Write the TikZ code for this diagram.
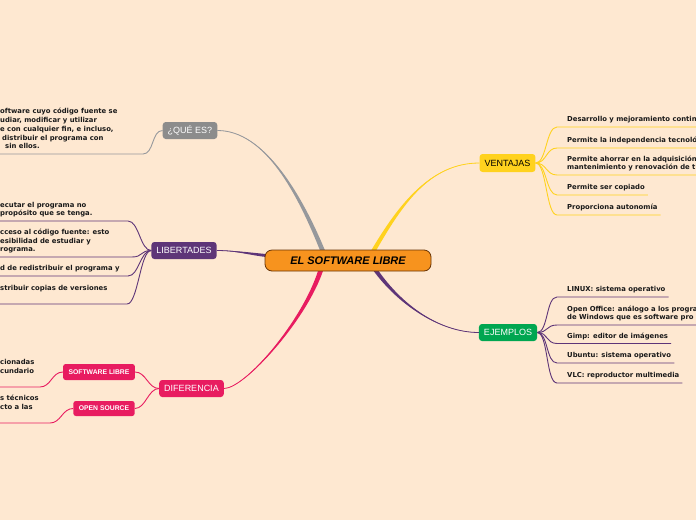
\documentclass[tikz,border=0pt]{standalone}
\usepackage{fontspec}
\setmainfont{Liberation Sans}
\newfontfamily\leaffam{DejaVu Sans}
\definecolor{mmpaper}{RGB}{254,232,209}
\definecolor{mmorange}{RGB}{247,147,30}
\definecolor{mmbrown}{RGB}{105,52,5}
\definecolor{mmgray}{RGB}{140,140,140}
\definecolor{mmgrayline}{RGB}{150,152,156}
\definecolor{mmpurple}{RGB}{94,53,120}
\definecolor{mmpink}{RGB}{232,28,96}
\definecolor{mmyellow}{RGB}{255,210,30}
\definecolor{mmgreen}{RGB}{0,166,81}
\usetikzlibrary{calc}
\pgfdeclarelayer{paper}
\pgfdeclarelayer{links}
\pgfsetlayers{paper,links,main}
\tikzset{
  topic/.style={rounded corners=3pt, minimum height=17pt, inner xsep=5pt, inner ysep=0pt, text=white, font=\fontsize{9}{10}\selectfont},
  subtopic/.style={rounded corners=2.5pt, minimum height=16pt, inner xsep=5.5pt, inner ysep=0pt, text=white, font=\bfseries\fontsize{6.8}{8}\selectfont},
  leaf/.style={inner xsep=0pt, inner ysep=2.4pt, align=left, anchor=south west, text=black!90, execute at end node=\strut, font=\leaffam\bfseries\fontsize{6.85}{8.7}\selectfont},
  twig/.style={line width=0.9pt},
}

\begin{document}
\begin{tikzpicture}[x=1pt,y=-1pt]
  \begin{pgfonlayer}{paper}
    \fill[mmpaper] (0,0) rectangle (696,520);
  \end{pgfonlayer}
  \useasboundingbox (0,0) rectangle (696,520);

  % centre and main topics
  \node[draw=mmbrown, line width=0.8pt, fill=mmorange, rounded corners=7pt, minimum width=166pt, minimum height=21pt, inner sep=0pt, font=\bfseries\itshape\fontsize{11}{12}\selectfont] (root) at (348,260.5) {EL SOFTWARE LIBRE};
  \node[topic, fill=mmgray] (quees) at (190,130.5) {¿QUÉ ES?};
  \node[topic, fill=mmpurple] (libertades) at (184,250.5) {LIBERTADES};
  \node[topic, fill=mmpink] (diferencia) at (191.5,388.5) {DIFERENCIA};
  \node[topic, fill=mmyellow, text=black, minimum height=18pt] (ventajas) at (507.5,163) {VENTAJAS};
  \node[topic, fill=mmgreen] (ejemplos) at (508,332.5) {EJEMPLOS};
  \node[subtopic, fill=mmpink] (swlibre) at (99,372) {SOFTWARE LIBRE};
  \node[subtopic, fill=mmpink, minimum height=15pt] (opensource) at (104,408.5) {OPEN SOURCE};

  % right side
  \node[leaf] (v1) at (567,127) {Desarrollo y mejoramiento contin};
  \node[leaf] (v2) at (567,148) {Permite la independencia tecnoló};
  \node[leaf] (v3) at (567,175) {Permite ahorrar en la adquisición\\mantenimiento y renovación de t};
  \node[leaf] (v4) at (567,195) {Permite ser copiado};
  \node[leaf] (v5) at (567,215) {Proporciona autonomía};
  \node[leaf] (e1) at (567,297) {LINUX: sistema operativo};
  \node[leaf] (e2) at (567,325) {Open Office: análogo a los progra\\de Windows que es software pro};
  \node[leaf] (e3) at (567,343.5) {Gimp: editor de imágenes};
  \node[leaf] (e4) at (567,363) {Ubuntu: sistema operativo};
  \node[leaf] (e5) at (567,383) {VLC: reproductor multimedia};

  % left side
  \node[leaf] (q1) at (0,154) {oftware cuyo código fuente se\\udiar, modificar y utilizar\\e con cualquier fin, e incluso,\\\hspace*{2pt}distribuir el programa con\\\hspace*{5pt}sin ellos.};
  \node[leaf] (l1) at (0,221) {ecutar el programa no\\propósito que se tenga.};
  \node[leaf] (l2) at (0,257) {cceso al código fuente: esto\\esibilidad de estudiar y\\rograma.};
  \node[leaf] (l3) at (0,276) {d de redistribuir el programa y};
  \node[leaf] (l4) at (0,304) {stribuir copias de versiones\\\mbox{}};
  \node[leaf] (s1) at (0,387) {cionadas\\cundario\\\mbox{}};
  \node[leaf] (o1) at (0,423) {s técnicos\\cto a las\\\mbox{}};

  \coordinate (q1end) at (143,154);
  \coordinate (l1end) at (128,221);
  \coordinate (l2end) at (132,257);
  \coordinate (l3end) at (128,276);
  \coordinate (l4end) at (127,304);
  \coordinate (s1end) at (40,387);
  \coordinate (o1end) at (50,423);

  \begin{pgfonlayer}{links}
    % main branches, tapering
    \fill[mmgrayline] ($(root.north)+(-27.5,2)$) .. controls (298,195) and (265,130.5) .. (quees.east) .. controls (265,130.5) and (302,195) .. ($(root.north)+(-22.5,2)$) -- cycle;
    \draw[mmgrayline, line width=0.8pt] ($(root.north)+(-25,2)$) .. controls (300,195) and (265,130.5) .. (quees.east);
    \fill[mmyellow] ($(root.north)+(22.5,2)$) .. controls (398,205) and (430,163) .. (ventajas.west) .. controls (430,163) and (402,205) .. ($(root.north)+(27.5,2)$) -- cycle;
    \draw[mmyellow, line width=0.8pt] ($(root.north)+(25,2)$) .. controls (400,205) and (430,163) .. (ventajas.west);
    \fill[mmpink] ($(root.south)+(-29.5,-2)$) .. controls (303,320) and (245,388.5) .. (diferencia.east) .. controls (245,388.5) and (307,320) .. ($(root.south)+(-24.5,-2)$) -- cycle;
    \draw[mmpink, line width=0.8pt] ($(root.south)+(-27,-2)$) .. controls (305,320) and (245,388.5) .. (diferencia.east);
    \fill[mmpurple] ($(root.south)+(24.5,-2)$) .. controls (398,305) and (440,332.5) .. (ejemplos.west) .. controls (440,332.5) and (402,305) .. ($(root.south)+(29.5,-2)$) -- cycle;
    \draw[mmpurple, line width=0.8pt] ($(root.south)+(27,-2)$) .. controls (400,305) and (440,332.5) .. (ejemplos.west);
    \fill[mmpurple] ($(root.west)+(6,-6)$) .. controls (250,252.5) and (235,250.5) .. (libertades.east) .. controls (235,250.5) and (250,255.5) .. ($(root.west)+(6,-3)$) -- cycle;
    \draw[mmpurple, line width=0.8pt] ($(root.west)+(6,-4.5)$) .. controls (250,254) and (235,250.5) .. (libertades.east);

    % twigs
    \foreach \leafnode in {v1,v2,v3,v4,v5}
      \draw[twig, mmyellow] (ventajas.east) .. controls +(11,0) and +(-11,0) .. ([xshift=-10pt]\leafnode.south west) -- ([xshift=3pt]\leafnode.south east);
    \foreach \leafnode in {e1,e2,e3,e4,e5}
      \draw[twig, mmpurple] (ejemplos.east) .. controls +(11,0) and +(-11,0) .. ([xshift=-10pt]\leafnode.south west) -- ([xshift=3pt]\leafnode.south east);
    \draw[twig, mmgrayline] (quees.west) .. controls +(-11,0) and +(11,0) .. (q1end) -- (q1.south west);
    \foreach \leafnode in {l1,l2,l3,l4}
      \draw[twig, mmpurple] (libertades.west) .. controls +(-11,0) and +(11,0) .. (\leafnode end) -- (\leafnode.south west);
    \draw[twig, mmpink] (diferencia.west) .. controls +(-11,0) and +(11,0) .. (swlibre.east);
    \draw[twig, mmpink] (diferencia.west) .. controls +(-11,0) and +(11,0) .. (opensource.east);
    \draw[twig, mmpink] (swlibre.west) .. controls +(-11,0) and +(11,0) .. (s1end) -- (s1.south west);
    \draw[twig, mmpink] (opensource.west) .. controls +(-11,0) and +(11,0) .. (o1end) -- (o1.south west);
  \end{pgfonlayer}
\end{tikzpicture}
\end{document}
